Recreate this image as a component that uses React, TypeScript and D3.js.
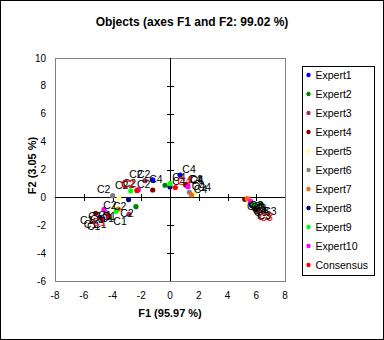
import React from "react";
import * as d3 from "d3";

const objects = ["C1", "C2", "C3", "C4"];
const seriesNames = ["Expert1", "Expert2", "Expert3", "Expert4", "Expert5", "Expert6", "Expert7", "Expert8", "Expert9", "Expert10", "Consensus"];
const seriesColors = ["#0000FF", "#008000", "#993366", "#800000", "#FFFF99", "#808080", "#FF6600", "#000080", "#00FF00", "#FF00FF", "#FF0000"];

// [F1, F2] for C1, C2, C3, C4
const expert1 = [[-4.68, -1.57], [-1.2, 1.25], [5.95, -0.75], [0.7, 1.6]];
const expert2 = [[-4.25, -1.45], [-2.37, -0.67], [6.33, -0.47], [-0.35, 0.87]];
const expert3 = [[-2.85, -1.21], [-1.74, 1.2], [5.9, -0.85], [1.2, 0.85]];
const expert4 = [[-5.17, -1.14], [-1.2, 0.53], [5.2, -0.14], [1.09, 0.89]];
const expert5 = [[-3.9, -0.75], [-3.55, -0.09], [5.5, -0.2], [1.76, 0.29]];
const expert6 = [[-4.45, -1.1], [-3.99, 0.12], [5.6, -0.4], [1.35, 0.36]];
const expert7 = [[-3.6, -0.85], [-2.28, 0.48], [5.38, -0.09], [1.5, 0.17]];
const expert8 = [[-4.9, -1.45], [-2.88, -0.16], [5.68, -0.57], [0.0, 0.75]];
const expert9 = [[-3.75, -1.0], [-2.73, 0.46], [5.8, -0.47], [0.0, 0.98]];
const expert10 = [[-4.59, -0.86], [-2.2, 0.55], [5.61, -0.28], [1.25, 0.77]];
const consensus = [[-4.3, -1.3], [-2.3, 0.5], [6.07, -0.9], [0.37, 0.7]];
const seriesData = [expert1, expert2, expert3, expert4, expert5, expert6, expert7, expert8, expert9, expert10, consensus];

const xTicks = [-8, -6, -4, -2, 0, 2, 4, 6, 8];
const yTicks = [-6, -4, -2, 0, 2, 4, 6, 8, 10];

const title = "Objects (axes F1 and F2: 99.02 %)";
const xTitle = "F1 (95.97 %)";
const yTitle = "F2 (3.05 %)";

const W = 384;
const H = 340;
const FONT = "'Liberation Sans', Arial, sans-serif";

export default function App() {
  const plot = { left: 55, right: 285, top: 58, bottom: 281 };
  const x = d3.scaleLinear().domain([-8, 8]).range([plot.left, plot.right]);
  const y = d3.scaleLinear().domain([-6, 10]).range([plot.bottom, plot.top]);
  const x0 = x(0);
  const y0 = y(0);

  const legend = { left: 302, top: 66, width: 72, height: 209, first: 75, step: 19 };

  return (
    <svg width={W} height={H} style={{ position: "absolute", left: 0, top: 0 }} fontFamily={FONT}>
      <rect x={0} y={0} width={W} height={H} fill="#ffffff" />
      <rect x={0.5} y={0.5} width={W - 1} height={H - 1} fill="none" stroke="#000" />
      <text x={W / 2} y={26} textAnchor="middle" fontWeight="bold" fontSize={12}>{title}</text>

      {/* plot frame */}
      <rect x={plot.left + 0.5} y={plot.top + 0.5} width={plot.right - plot.left} height={plot.bottom - plot.top} fill="none" stroke="#808080" />

      {/* axes through origin */}
      <line x1={plot.left} x2={plot.right} y1={Math.round(y0) + 0.5} y2={Math.round(y0) + 0.5} stroke="#000" />
      <line x1={Math.round(x0) + 0.5} x2={Math.round(x0) + 0.5} y1={plot.top} y2={plot.bottom} stroke="#000" />
      {xTicks.filter((t) => t !== 0 && t !== -8 && t !== 8).map((t) => (
        <line key={"xt" + t} x1={Math.round(x(t)) + 0.5} x2={Math.round(x(t)) + 0.5} y1={Math.round(y0) - 3} y2={Math.round(y0) + 4} stroke="#000" />
      ))}
      {yTicks.filter((t) => t !== 0 && t !== -6 && t !== 10).map((t) => (
        <line key={"yt" + t} y1={Math.round(y(t)) + 0.5} y2={Math.round(y(t)) + 0.5} x1={Math.round(x0) - 3} x2={Math.round(x0) + 4} stroke="#000" />
      ))}

      {/* tick labels */}
      {xTicks.map((t) => (
        <text key={"xl" + t} x={x(t)} y={299} textAnchor="middle" fontSize={10}>{t}</text>
      ))}
      {yTicks.map((t) => (
        <text key={"yl" + t} x={46} y={y(t) + 3.5} textAnchor="end" fontSize={10}>{t}</text>
      ))}

      <text x={x0} y={317} textAnchor="middle" fontWeight="bold" fontSize={11}>{xTitle}</text>
      <text transform={`translate(36,${(plot.top + plot.bottom) / 2 - 4}) rotate(-90)`} textAnchor="middle" fontWeight="bold" fontSize={11}>{yTitle}</text>

      {/* points */}
      {seriesData.map((pts, si) => (
        <g key={"s" + si}>
          {pts.map((p, oi) => (
            <circle key={oi} cx={x(p[0])} cy={y(p[1])} r={2.6} fill={seriesColors[si]} />
          ))}
        </g>
      ))}
      {/* labels */}
      {seriesData.map((pts, si) => (
        <g key={"l" + si}>
          {pts.map((p, oi) => (
            <text
              key={oi}
              x={x(p[0]) + (p[0] >= 0 ? 9 : -9)}
              y={y(p[1]) + (p[1] > 0 ? -6 : 7)}
              dy="0.35em"
              textAnchor="middle"
              fontSize={10.5}
              fill={seriesNames[si] === "Consensus" ? "#FF0000" : "#000"}
            >
              {objects[oi]}
            </text>
          ))}
        </g>
      ))}

      {/* legend */}
      <rect x={legend.left + 0.5} y={legend.top + 0.5} width={legend.width} height={legend.height} fill="#fff" stroke="#000" />
      {seriesNames.map((n, i) => (
        <g key={"lg" + i}>
          <circle cx={308.5} cy={legend.first + i * legend.step} r={2.2} fill={seriesColors[i]} />
          <text x={315.5} y={legend.first + i * legend.step + 4} fontSize={10.5}>{n}</text>
        </g>
      ))}
    </svg>
  );
}
